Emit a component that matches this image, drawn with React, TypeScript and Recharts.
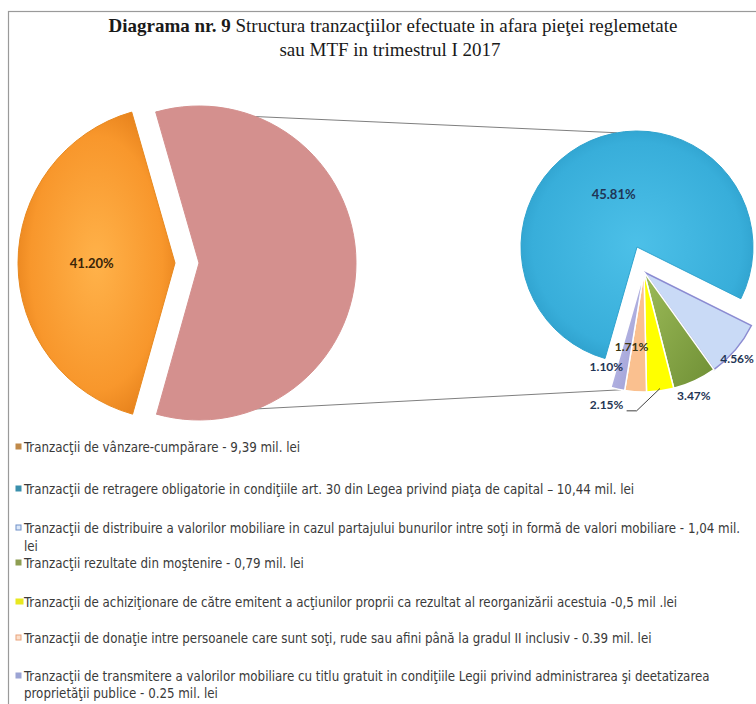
import React from 'react';
import { PieChart, Pie, Cell, Customized } from 'recharts';

// ---------- data ----------
const categories = ['vanzare', 'retragere', 'distribuire', 'mostenire', 'achizitionare', 'donatie', 'transmitere'];
const shares = [41.2, 45.81, 4.56, 3.47, 2.15, 1.71, 1.1];
const legendLines: string[][] = [
  ['Tranzacţii de vânzare-cumpărare - 9,39 mil. lei'],
  ['Tranzacţii de retragere obligatorie in condiţiile art. 30 din Legea privind piaţa de capital  – 10,44 mil. lei'],
  ['Tranzacţii de distribuire a valorilor mobiliare in cazul partajului bunurilor intre soţi in formă de valori mobiliare  - 1,04 mil.', 'lei'],
  ['Tranzacţii rezultate din moştenire - 0,79 mil. lei'],
  ['Tranzacţii de achiziţionare de către emitent a acţiunilor proprii ca rezultat al reorganizării acestuia -0,5 mil .lei'],
  ['Tranzacţii de donaţie intre persoanele care sunt soţi, rude sau afini până la gradul II inclusiv - 0.39 mil. lei'],
  ['Tranzacţii de transmitere a valorilor mobiliare cu titlu gratuit in condiţiile Legii privind administrarea şi deetatizarea', 'proprietăţii publice - 0.25 mil. lei'],
];
const titleBold = 'Diagrama nr. 9';
const titleRest = ' Structura tranzacţiilor efectuate in afara pieţei reglemetate';
const titleLine2 = 'sau MTF in trimestrul I 2017';

const primaryData = [
  { name: categories[0], value: shares[0] },
  { name: 'other', value: shares.slice(1).reduce((a, b) => a + b, 0) },
];
const secondaryData = categories.slice(1).map((c, i) => ({ name: c, value: shares[i + 1] }));

// ---------- styles / layout ----------
const W = 756;
const H = 704;
const L_CY = 263;
const L_R = 157;
const ORANGE_CX = 175;
const PINK_CX = 199;
const L_START = 106;
const B_CX = 637;
const B_CY = 247;
const B_R = 116;
const S_CX = 644;
const S_CY = 272;
const S_R = 120;
const R_START = -106;

const FILL: Record<string, string> = {
  vanzare: 'url(#gOrange)',
  other: '#D4908E',
  retragere: 'url(#gBlue)',
  distribuire: '#C9DAF6',
  mostenire: 'url(#gGreen)',
  achizitionare: '#FFFF00',
  donatie: '#FAC08F',
  transmitere: 'url(#gLav)',
};
const STROKE: Record<string, string> = {
  vanzare: '#E8891F',
  other: '#D4908E',
  retragere: '#2FA3CE',
  distribuire: '#8C8CD2',
  mostenire: '#ffffff',
  achizitionare: '#ffffff',
  donatie: '#ffffff',
  transmitere: '#ffffff',
};
const MARKER: Record<string, { fill: string; stroke: string }> = {
  vanzare: { fill: '#C08A4A', stroke: '#C08A4A' },
  retragere: { fill: '#3A8FAC', stroke: '#3A8FAC' },
  distribuire: { fill: '#DCE8F8', stroke: '#6E8FC8' },
  mostenire: { fill: '#8E9E52', stroke: '#8E9E52' },
  achizitionare: { fill: '#E8E820', stroke: '#E8E820' },
  donatie: { fill: '#FBE0CC', stroke: '#E9A27A' },
  transmitere: { fill: '#9CA4D4', stroke: '#9CA4D4' },
};
const LABEL_LAYOUT: Record<string, { r: number; da: number; size: number; color: string; leader?: boolean }> = {
  vanzare: { r: 0.53, da: 0, size: 13, color: '#3A2508' },
  retragere: { r: 0.5, da: 0, size: 13, color: '#1F3555' },
  distribuire: { r: 1.06, da: -2.5, size: 12, color: '#1F3555' },
  mostenire: { r: 1.11, da: -3, size: 12, color: '#1F3555' },
  achizitionare: { r: 1.15, da: -23.5, size: 12, color: '#1F3555', leader: true },
  donatie: { r: 0.63, da: -5.5, size: 12, color: '#3A3410' },
  transmitere: { r: 0.85, da: -9, size: 12, color: '#1F3555' },
};
const RAD = Math.PI / 180;
const LEGEND_Y = [447, 489, 528, 546, 563, 602, 638, 676, 693];

const makeLabel = (visible: string[]) => (props: any) => {
  const key = props.name ?? props.payload?.name;
  if (!visible.includes(key)) return null;
  const lay = LABEL_LAYOUT[key];
  const a = (props.midAngle + lay.da) * RAD;
  const r = props.outerRadius * lay.r;
  const x = props.cx + r * Math.cos(a);
  const y = props.cy - r * Math.sin(a);
  const txt = `${Number(props.value).toFixed(2)}%`;
  let leader = null;
  if (lay.leader) {
    const ma = props.midAngle * RAD;
    const ex = props.cx + props.outerRadius * 0.98 * Math.cos(ma);
    const ey = props.cy - props.outerRadius * 0.98 * Math.sin(ma);
    leader = (
      <path
        d={`M${x + 20},${y + 6} L${x + 30},${y + 6} L${ex},${ey}`}
        stroke="#404040"
        strokeWidth={1}
        fill="none"
      />
    );
  }
  return (
    <g key={`lbl-${key}`}>
      {leader}
      <text
        x={x}
        y={y}
        textAnchor="middle"
        dominantBaseline="central"
        fontFamily="Lato, 'Liberation Sans', sans-serif"
        fontWeight="bold"
        fontSize={lay.size}
        fill={lay.color}
      >
        {txt}
      </text>
    </g>
  );
};

const Decor = () => {
  const orangeSpan = (360 * shares[0]) / 100;
  const a1 = L_START * RAD;
  const a2 = (L_START + orangeSpan) * RAD;
  const p1 = { x: PINK_CX + L_R * Math.cos(a1), y: L_CY - L_R * Math.sin(a1) };
  const p2 = { x: PINK_CX + L_R * Math.cos(a2), y: L_CY - L_R * Math.sin(a2) };
  const q1 = { x: B_CX + B_R * Math.cos(100 * RAD), y: B_CY - B_R * Math.sin(100 * RAD) };
  const q2 = { x: S_CX + S_R * Math.cos(259 * RAD), y: S_CY - S_R * Math.sin(259 * RAD) };
  return (
    <g>
      <rect x={8.5} y={11.5} width={W} height={H} fill="none" stroke="#9a9a9a" strokeWidth={1.2} />
      <text x={393} y={32} textAnchor="middle" fontFamily="'Liberation Serif', 'DejaVu Serif', serif" fontSize={19} fill="#1a1a1a">
        <tspan fontWeight="bold">{titleBold}</tspan>
        <tspan>{titleRest}</tspan>
      </text>
      <text x={390} y={56} textAnchor="middle" fontFamily="'Liberation Serif', 'DejaVu Serif', serif" fontSize={19} fill="#1a1a1a">
        {titleLine2}
      </text>
      <line x1={p1.x} y1={p1.y} x2={q1.x} y2={q1.y} stroke="#7f7f7f" strokeWidth={1} />
      <line x1={p2.x} y1={p2.y} x2={q2.x} y2={q2.y} stroke="#7f7f7f" strokeWidth={1} />
    </g>
  );
};

const LegendBlock = () => {
  let row = 0;
  return (
    <g>
      {legendLines.map((lines, i) => {
        const m = MARKER[categories[i]];
        const startRow = row;
        row += lines.length;
        const y0 = LEGEND_Y[startRow];
        return (
          <g key={`leg-${i}`}>
            <rect x={16} y={y0 - 3} width={i === 4 ? 7 : 5} height={5} fill={m.fill} stroke={m.stroke} strokeWidth={1} />
            {lines.map((ln, j) => (
              <text
                key={`ln-${i}-${j}`}
                x={24}
                y={LEGEND_Y[startRow + j]}
                dominantBaseline="central"
                fontFamily="'Liberation Sans Narrow', 'DejaVu Sans Condensed', 'Arial Narrow', sans-serif"
                fontSize={13.2}
                fill="#3a3a3a"
              >
                {ln}
              </text>
            ))}
          </g>
        );
      })}
    </g>
  );
};

export default function App() {
  return (
    <div style={{ position: 'absolute', left: 0, top: 0, width: W, height: H, background: '#fff' }}>
      <PieChart width={W} height={H} margin={{ top: 0, right: 0, bottom: 0, left: 0 }}>
        <defs>
          <radialGradient id="gOrange" cx="50%" cy="50%" r="60%">
            <stop offset="0%" stopColor="#FFB24A" />
            <stop offset="70%" stopColor="#F8972C" />
            <stop offset="100%" stopColor="#E07A16" />
          </radialGradient>
          <radialGradient id="gBlue" cx="50%" cy="50%" r="60%">
            <stop offset="0%" stopColor="#4CC0E8" />
            <stop offset="75%" stopColor="#38AEDA" />
            <stop offset="100%" stopColor="#2796C2" />
          </radialGradient>
          <linearGradient id="gGreen" x1="0" y1="0" x2="1" y2="1">
            <stop offset="0%" stopColor="#9CBB58" />
            <stop offset="100%" stopColor="#6F8F35" />
          </linearGradient>
          <linearGradient id="gLav" x1="0" y1="0" x2="1" y2="1">
            <stop offset="0%" stopColor="#C4C4EC" />
            <stop offset="100%" stopColor="#9A9AD2" />
          </linearGradient>
        </defs>
        <Customized component={Decor} />
        {/* primary pie: pink part */}
        <Pie
          data={primaryData}
          dataKey="value"
          nameKey="name"
          cx={PINK_CX}
          cy={L_CY}
          outerRadius={L_R}
          startAngle={L_START}
          endAngle={L_START + 360}
          isAnimationActive={false}
          labelLine={false}
          label={false}
        >
          {primaryData.map((d) => (
            <Cell key={`p1-${d.name}`} fill={d.name === 'other' ? FILL.other : 'none'} stroke={d.name === 'other' ? STROKE.other : 'none'} />
          ))}
        </Pie>
        {/* primary pie: exploded orange part */}
        <Pie
          data={primaryData}
          dataKey="value"
          nameKey="name"
          cx={ORANGE_CX}
          cy={L_CY}
          outerRadius={L_R}
          startAngle={L_START}
          endAngle={L_START + 360}
          isAnimationActive={false}
          labelLine={false}
          label={makeLabel(['vanzare'])}
        >
          {primaryData.map((d) => (
            <Cell key={`p2-${d.name}`} fill={d.name === 'vanzare' ? FILL.vanzare : 'none'} stroke={d.name === 'vanzare' ? STROKE.vanzare : 'none'} />
          ))}
        </Pie>
        {/* secondary pie: big slice */}
        <Pie
          data={secondaryData}
          dataKey="value"
          nameKey="name"
          cx={B_CX}
          cy={B_CY}
          outerRadius={B_R}
          startAngle={R_START}
          endAngle={R_START - 360}
          isAnimationActive={false}
          labelLine={false}
          label={makeLabel(['retragere'])}
        >
          {secondaryData.map((d) => (
            <Cell key={`s1-${d.name}`} fill={d.name === 'retragere' ? FILL.retragere : 'none'} stroke={d.name === 'retragere' ? STROKE.retragere : 'none'} />
          ))}
        </Pie>
        {/* secondary pie: small exploded slices */}
        <Pie
          data={secondaryData}
          dataKey="value"
          nameKey="name"
          cx={S_CX}
          cy={S_CY}
          outerRadius={S_R}
          startAngle={R_START}
          endAngle={R_START - 360}
          isAnimationActive={false}
          labelLine={false}
          label={makeLabel(['distribuire', 'mostenire', 'achizitionare', 'donatie', 'transmitere'])}
        >
          {secondaryData.map((d) => (
            <Cell
              key={`s2-${d.name}`}
              fill={d.name === 'retragere' ? 'none' : FILL[d.name]}
              stroke={d.name === 'retragere' ? 'none' : STROKE[d.name]}
              strokeWidth={1.5}
            />
          ))}
        </Pie>
        <Customized component={LegendBlock} />
      </PieChart>
    </div>
  );
}
